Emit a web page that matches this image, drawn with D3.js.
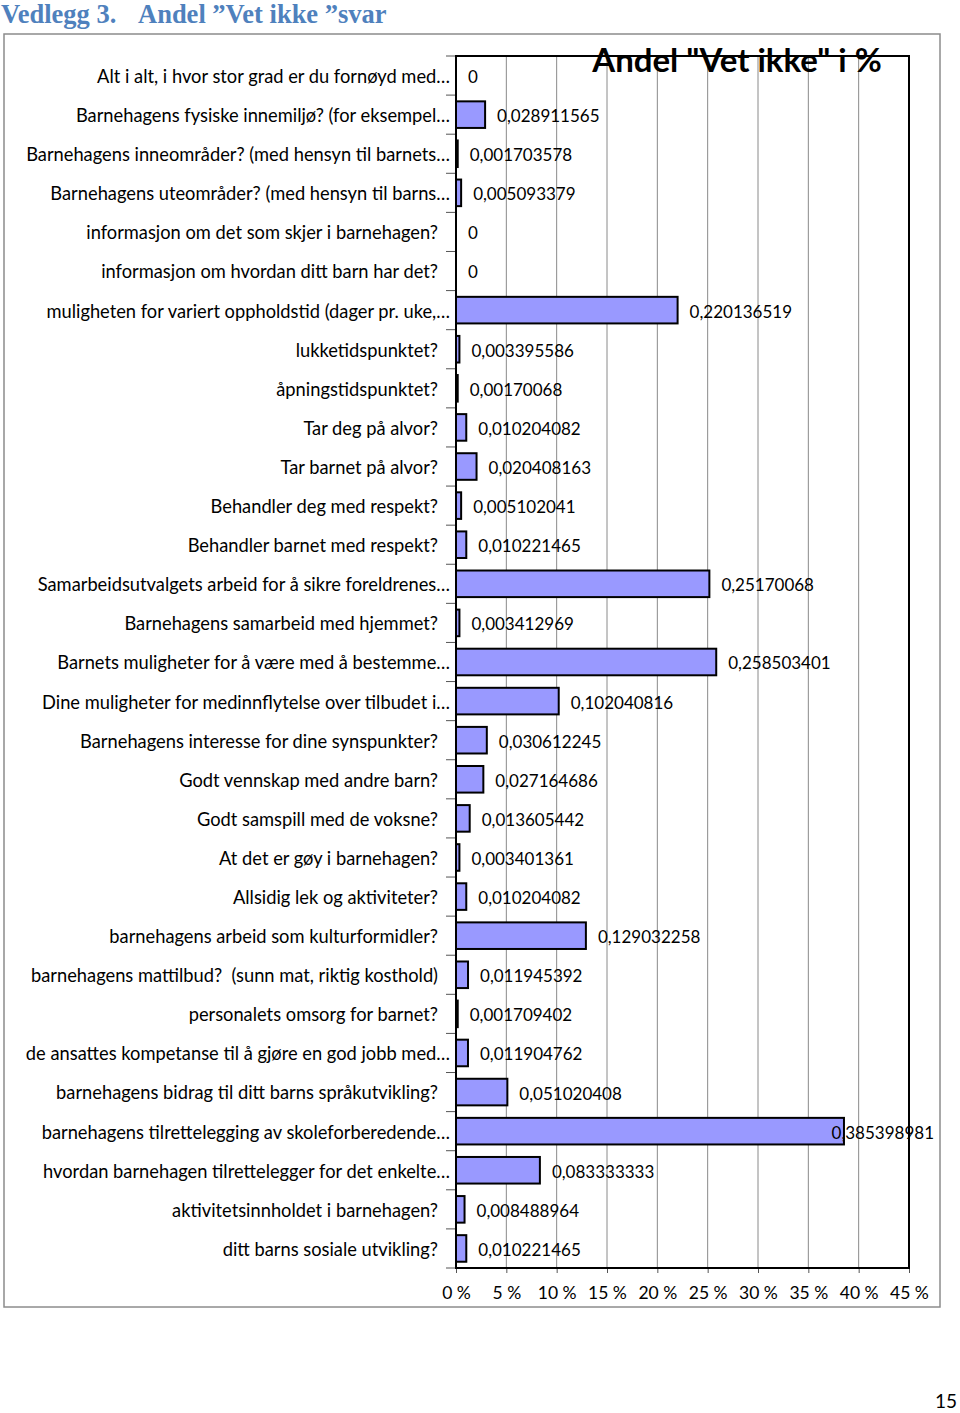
<!DOCTYPE html>
<html><head><meta charset="utf-8">
<script src="https://cdn.jsdelivr.net/npm/d3@7"></script>
<style>body{margin:0;background:#fff} text{white-space:pre}</style>
</head><body>
<svg id="c" width="960" height="1413"></svg>
<script>
const categories = [
"Alt i alt, i hvor stor grad er du fornøyd med…",
"Barnehagens fysiske innemiljø? (for eksempel…",
"Barnehagens inneområder? (med hensyn til barnets…",
"Barnehagens uteområder? (med hensyn til barns…",
"informasjon om det som skjer i barnehagen?",
"informasjon om hvordan ditt barn har det?",
"muligheten for variert oppholdstid (dager pr. uke,…",
"lukketidspunktet?",
"åpningstidspunktet?",
"Tar deg på alvor?",
"Tar barnet på alvor?",
"Behandler deg med respekt?",
"Behandler barnet med respekt?",
"Samarbeidsutvalgets arbeid for å sikre foreldrenes…",
"Barnehagens samarbeid med hjemmet?",
"Barnets muligheter for å være med å bestemme…",
"Dine muligheter for medinnflytelse over tilbudet i…",
"Barnehagens interesse for dine synspunkter?",
"Godt vennskap med andre barn?",
"Godt samspill med de voksne?",
"At det er gøy i barnehagen?",
"Allsidig lek og aktiviteter?",
"barnehagens arbeid som kulturformidler?",
"barnehagens mattilbud?  (sunn mat, riktig kosthold)",
"personalets omsorg for barnet?",
"de ansattes kompetanse til å gjøre en god jobb med…",
"barnehagens bidrag til ditt barns språkutvikling?",
"barnehagens tilrettelegging av skoleforberedende…",
"hvordan barnehagen tilrettelegger for det enkelte…",
"aktivitetsinnholdet i barnehagen?",
"ditt barns sosiale utvikling?"
];
const values = [0,0.028911565,0.001703578,0.005093379,0,0,0.220136519,0.003395586,0.00170068,0.010204082,0.020408163,0.005102041,0.010221465,0.25170068,0.003412969,0.258503401,0.102040816,0.030612245,0.027164686,0.013605442,0.003401361,0.010204082,0.129032258,0.011945392,0.001709402,0.011904762,0.051020408,0.385398981,0.083333333,0.008488964,0.010221465];
const valueLabels = ["0","0,028911565","0,001703578","0,005093379","0","0","0,220136519","0,003395586","0,00170068","0,010204082","0,020408163","0,005102041","0,010221465","0,25170068","0,003412969","0,258503401","0,102040816","0,030612245","0,027164686","0,013605442","0,003401361","0,010204082","0,129032258","0,011945392","0,001709402","0,011904762","0,051020408","0,385398981","0,083333333","0,008488964","0,010221465"];
const xTickValues = [0,0.05,0.10,0.15,0.20,0.25,0.30,0.35,0.40,0.45];
const xTickLabels = ["0 %","5 %","10 %","15 %","20 %","25 %","30 %","35 %","40 %","45 %"];
const pageTitle1 = "Vedlegg 3.";
const pageTitle2 = "Andel ”Vet ikke ”svar";
const chartTitle = "Andel \"Vet ikke\" i %";
const pageNumber = "15";

const svg = d3.select("#c");
const FONT = "Lato, 'Open Sans', sans-serif";
svg.append("rect").attr("width",960).attr("height",1413).attr("fill","#fff");

// page header
svg.append("text").attr("x",1).attr("y",23).text(pageTitle1)
  .attr("font-family","'Liberation Serif', serif").attr("font-weight","bold").attr("font-size",26.5).attr("fill","#4F81BD");
svg.append("text").attr("x",138).attr("y",23).text(pageTitle2)
  .attr("font-family","'Liberation Serif', serif").attr("font-weight","bold").attr("font-size",26.5).attr("fill","#4F81BD");

// chart outer border
svg.append("rect").attr("x",4).attr("y",34).attr("width",936).attr("height",1273)
  .attr("fill","none").attr("stroke","#8c8c8c").attr("stroke-width",1.5);

const x = d3.scaleLinear().domain([0,0.45]).range([456,909]);
const y = d3.scaleBand().domain(categories).range([56,1268]).paddingInner(0.32).paddingOuter(0.16);
const step = y.step();

// gridlines
svg.append("g").selectAll("line").data(xTickValues.slice(1,-1)).join("line")
  .attr("x1",d=>x(d)).attr("x2",d=>x(d)).attr("y1",56).attr("y2",1268)
  .attr("stroke","#8a8a8a").attr("stroke-width",1);

// x axis
const xAxis = d3.axisBottom(x).tickValues(xTickValues).tickSize(5).tickPadding(14)
  .tickFormat((d,i)=>xTickLabels[i]);
const gx = svg.append("g").attr("transform","translate(0,1268)").call(xAxis);
gx.select(".domain").remove();
gx.selectAll("line").attr("stroke","#555");
gx.selectAll("text").attr("font-family",FONT).attr("font-size",17.5).attr("fill","#000");

// left ticks at band boundaries
svg.append("g").selectAll("line").data(d3.range(categories.length+1)).join("line")
  .attr("x1",446).attr("x2",456)
  .attr("y1",i=>y.range()[0]+i*step).attr("y2",i=>y.range()[0]+i*step)
  .attr("stroke","#555").attr("stroke-width",1);

// bars
svg.append("g").selectAll("rect").data(values).join("rect")
  .attr("x",x(0)).attr("y",(d,i)=>y(categories[i]))
  .attr("width",d=>x(d)-x(0)).attr("height",y.bandwidth())
  .attr("fill",d=>d>0?"#9999FF":"none").attr("stroke",d=>d>0?"#000":"none").attr("stroke-width",2);

// plot border
svg.append("rect").attr("x",456).attr("y",56).attr("width",453).attr("height",1212)
  .attr("fill","none").attr("stroke","#000").attr("stroke-width",2);

// category labels
svg.append("g").selectAll("text").data(categories).join("text")
  .attr("x",d=>d.endsWith("…")?450:438)
  .attr("y",d=>y(d)+y.bandwidth()/2+1).attr("dy","0.35em")
  .attr("text-anchor","end").attr("font-family",FONT).attr("font-size",18.3).attr("fill","#000")
  .text(d=>d);

// value labels
const vl = svg.append("g").selectAll("text").data(values).join("text")
  .attr("y",(d,i)=>y(categories[i])+y.bandwidth()/2+1.5).attr("dy","0.35em")
  .attr("font-family",FONT).attr("font-size",17).attr("fill","#000")
  .text((d,i)=>valueLabels[i]);
vl.each(function(d){
  const w = this.getComputedTextLength();
  let xs = x(d)+12;
  if (xs + w > 934) xs = 934 - w;
  d3.select(this).attr("x",xs);
});

// chart title
svg.append("text").attr("x",737).attr("y",72).attr("text-anchor","middle")
  .attr("font-family",FONT).attr("font-weight","bold").attr("font-size",33).attr("fill","#000")
  .text(chartTitle);

// page number
svg.append("text").attr("x",957).attr("y",1408).attr("text-anchor","end")
  .attr("font-family",FONT).attr("font-size",19).attr("fill","#000").text(pageNumber);
</script>
</body></html>
